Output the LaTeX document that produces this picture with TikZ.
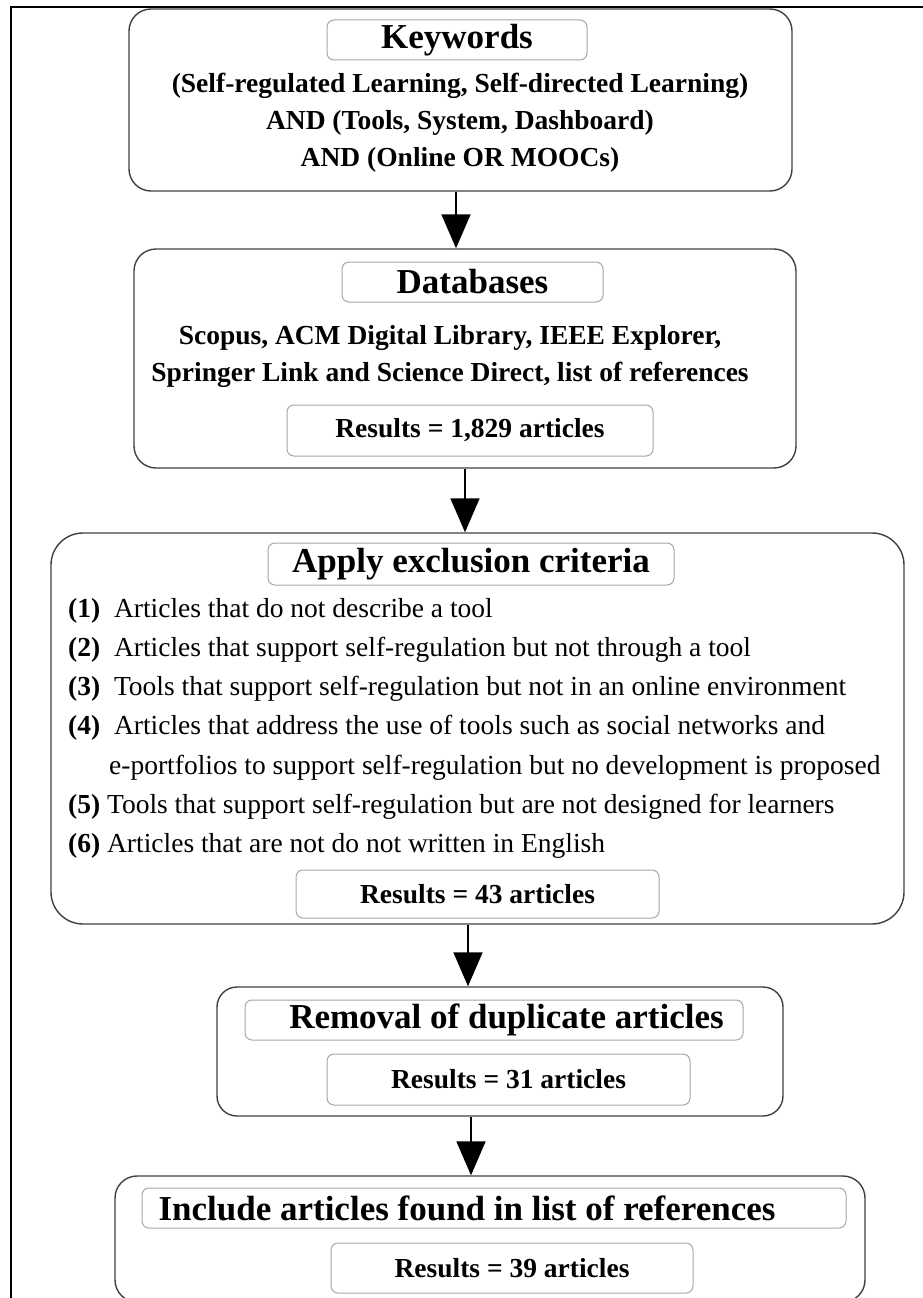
\documentclass[tikz,border=0pt]{standalone}
\usepackage{fontspec}
\setmainfont{Liberation Serif}
\usetikzlibrary{arrows.meta}

\newcommand{\bodysize}{\fontsize{27.5}{37}\selectfont}
\newcommand{\listsize}{\fontsize{27.5}{39.2}\selectfont}
\newcommand{\titlesize}{\fontsize{35}{40}\selectfont}

\tikzset{
  stage/.style={draw=black!75, line width=1.4pt, rounded corners=22pt},
  labelbox/.style={draw=black!35, line width=1pt, rounded corners=7pt, inner sep=0pt},
  heading/.style={labelbox, font=\titlesize\bfseries},
  tally/.style={labelbox, font=\bodysize\bfseries},
  flow/.style={-{Triangle[width=29pt,length=34pt]}, line width=1.6pt}
}

\begin{document}
\begin{tikzpicture}[x=1pt,y=-1pt]
\clip (0,0) rectangle (923,1298);
\draw[line width=1.2pt] (11,1298) -- (11,7) -- (923,7);

% keywords
\node[stage, minimum width=663pt, minimum height=182pt] (kw) at (460.5,100) {};
\node[heading, minimum width=260pt, minimum height=40pt] (kwhead) at (457,40) {Keywords};
\node[font=\bodysize\bfseries, align=center] (kwtext) at (460,122.5) {(Self-regulated Learning, Self-directed Learning)\\AND (Tools, System, Dashboard)\\AND (Online OR MOOCs)};

% databases
\node[stage, minimum width=662pt, minimum height=219pt] (db) at (465,358.5) {};
\node[heading, minimum width=261pt, minimum height=40pt] (dbhead) at (472.5,282) {Databases};
\node[font=\bodysize\bfseries, align=center] (dbtext) at (450,356) {Scopus, ACM Digital Library, IEEE Explorer,\\Springer Link and Science Direct, list of references};
\node[tally, minimum width=366pt, minimum height=51pt] (dbres) at (470,430.5) {Results = 1,829 articles};

% exclusion criteria
\node[stage, rounded corners=32pt, minimum width=853pt, minimum height=391pt] (crit) at (477.5,728.5) {};
\node[heading, minimum width=406pt, minimum height=42pt] (crithead) at (471,564) {Apply exclusion criteria};
\node[font=\listsize, align=left, anchor=north west, inner sep=0pt] (critlist) at (68,598) {\textbf{(1)}\ \ Articles that do not describe a tool\\
\textbf{(2)}\ \ Articles that support self-regulation but not through a tool\\
\textbf{(3)}\ \ Tools that support self-regulation but not in an online environment\\
\textbf{(4)}\ \ Articles that address the use of tools such as social networks and\\
\hspace*{41pt}e-portfolios to support self-regulation but no development is proposed\\
\textbf{(5)} Tools that support self-regulation but are not designed for learners\\
\textbf{(6)} Articles that are not do not written in English};
\node[tally, minimum width=363pt, minimum height=48pt] (critres) at (477.5,894) {Results = 43 articles};

% duplicates
\node[stage, rounded corners=20pt, minimum width=566pt, minimum height=129pt] (dup) at (500,1051.5) {};
\node[heading, minimum width=498pt, minimum height=40pt] (duphead) at (494,1020) {\hspace*{25pt}Removal of duplicate articles};
\node[tally, minimum width=363pt, minimum height=51pt] (dupres) at (508.5,1079.5) {Results = 31 articles};

% list of references
\node[stage, minimum width=750pt, minimum height=126pt] (incl) at (490,1239) {};
\node[heading, minimum width=704pt, minimum height=40pt] (inclhead) at (494,1208) {Include articles found in list of references\hspace*{54pt}};
\node[tally, minimum width=362pt, minimum height=50pt] (inclres) at (512,1268) {Results = 39 articles};

\draw[flow] ([xshift=-4.5pt]kw.south) -- ([xshift=-9pt]db.north);
\draw[flow] (db.south) -- ([xshift=-12.5pt]crit.north);
\draw[flow] ([xshift=-9.5pt]crit.south) -- ([xshift=-32pt]dup.north);
\draw[flow] ([xshift=-29pt]dup.south) -- ([xshift=-19pt]incl.north);
\end{tikzpicture}
\end{document}
